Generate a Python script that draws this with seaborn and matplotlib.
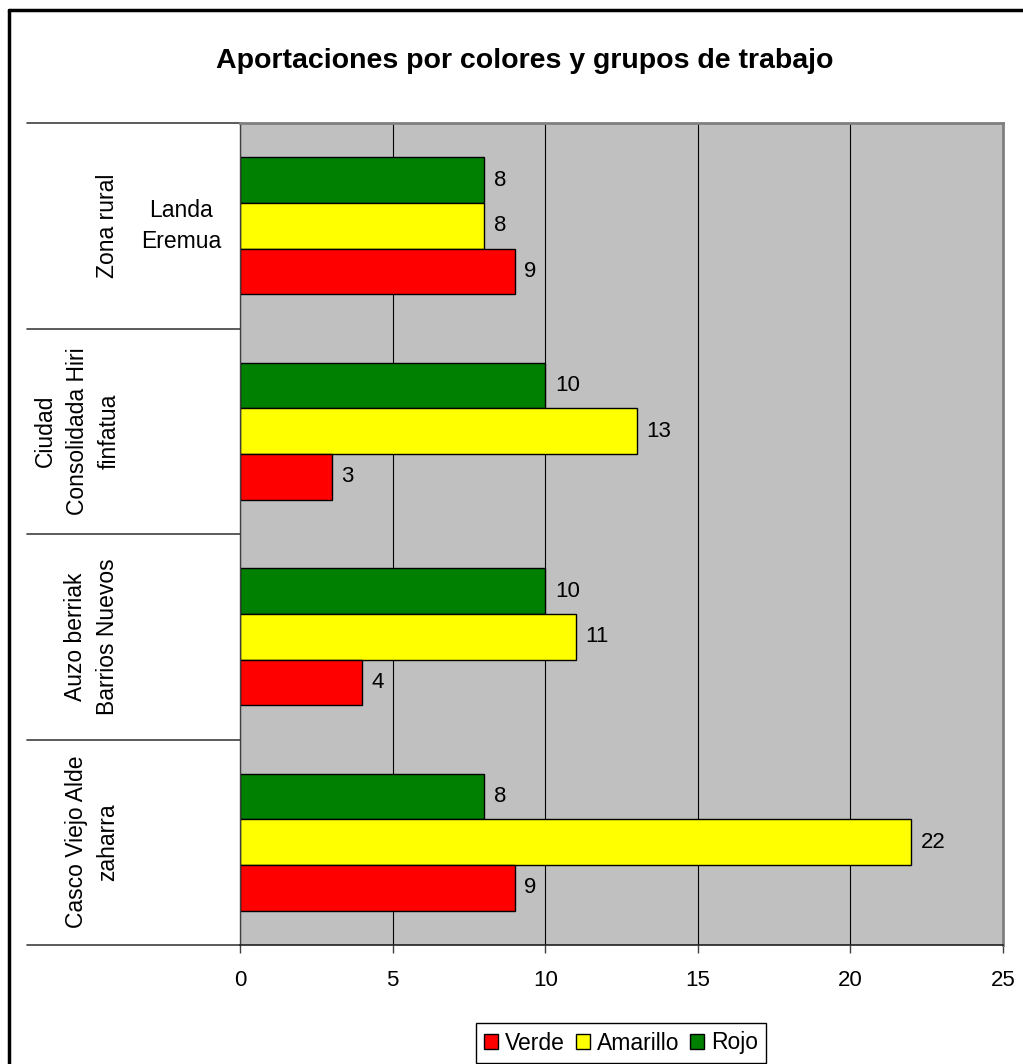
import matplotlib
matplotlib.use("Agg")
import matplotlib.pyplot as plt
import matplotlib.transforms as mtransforms
from matplotlib.lines import Line2D
import pandas as pd
import seaborn as sns

# Data (categories listed top to bottom as drawn)
categories = ["Zona rural", "Ciudad Consolidada", "Auzo berriak", "Casco Viejo"]
series = ["Rojo", "Amarillo", "Verde"]          # top-to-bottom order inside each group
verde    = [9, 3, 4, 9]
amarillo = [8, 13, 11, 22]
rojo     = [8, 10, 10, 8]
x_ticks  = [0, 5, 10, 15, 20, 25]

palette = {"Verde": "#FF0000", "Amarillo": "#FFFF00", "Rojo": "#008000"}

rows = []
for i, cat in enumerate(categories):
    rows.append((cat, "Rojo", rojo[i]))
    rows.append((cat, "Amarillo", amarillo[i]))
    rows.append((cat, "Verde", verde[i]))
df = pd.DataFrame(rows, columns=["grupo", "color", "valor"])

sns.set_style("white")
plt.rcParams["font.family"] = ["Liberation Sans", "DejaVu Sans"]
plt.rcParams["text.color"] = "black"
plt.rcParams["xtick.labelcolor"] = "black"

W, H = 1023, 1064
fig = plt.figure(figsize=(W / 100, H / 100), dpi=100)
ax = fig.add_axes([240 / W, 1 - 945 / H, (1003 - 240) / W, (945 - 123) / H])

sns.barplot(
    data=df, x="valor", y="grupo", hue="color",
    order=categories, hue_order=series, palette=palette,
    orient="h", width=2 / 3, edgecolor="black", linewidth=1,
    saturation=1, ax=ax,
)

for cont in ax.containers:
    ax.bar_label(cont, padding=7, fontsize=16, color="black")

ax.set_facecolor("#C0C0C0")
ax.set_xlim(0, 25)
ax.set_ylim(3.5, -0.5)
ax.set_xticks(x_ticks)
ax.set_xticklabels([str(t) for t in x_ticks], fontsize=16)
ax.set_yticks([])
ax.set_xlabel("")
ax.set_ylabel("")
ax.tick_params(axis="x", direction="out", length=6, width=1, color="#404040", pad=12, bottom=True)
ax.set_axisbelow(True)
ax.xaxis.grid(True, color="black", linewidth=0.8)

for side in ["top", "right"]:
    ax.spines[side].set_color("#808080")
    ax.spines[side].set_linewidth(2)
ax.spines["left"].set_color("#404040")
ax.spines["left"].set_linewidth(1)
ax.spines["bottom"].set_color("#202020")
ax.spines["bottom"].set_linewidth(1.2)

# category label column
trans = mtransforms.blended_transform_factory(fig.transFigure, ax.transData)
for yb in [-0.5, 0.5, 1.5, 2.5, 3.5]:
    ax.add_line(Line2D([27 / W, 240 / W], [yb, yb], transform=trans,
                       color="#404040", linewidth=1.2, clip_on=False))

lab_kw = dict(transform=trans, rotation=90, ha="center", va="center",
              multialignment="center", fontsize=16.5, linespacing=1.5)
ax.text(107 / W, 0, "Zona rural", **lab_kw)
ax.text(181 / W, 0, "Landa\nEremua", transform=trans, ha="center", va="center",
        multialignment="center", fontsize=16.5, linespacing=1.45)
ax.text(77 / W, 1, "Ciudad\nConsolidada Hiri\nfinfatua", **lab_kw)
ax.text(92 / W, 2, "Auzo berriak\nBarrios Nuevos", **lab_kw)
ax.text(92 / W, 3, "Casco Viejo Alde\nzaharra", **lab_kw)

# title
fig.text(525 / W, 1 - 68 / H, "Aportaciones por colores y grupos de trabajo",
         ha="center", va="baseline", fontsize=20.5, fontweight="bold")

# legend: Verde, Amarillo, Rojo
handles, labels = ax.get_legend_handles_labels()
ax.legend_.remove()
handles, labels = handles[::-1], labels[::-1]
leg = fig.legend(handles, labels, loc="center", bbox_to_anchor=(621 / W, 1 - 1043 / H),
                 ncol=3, fontsize=16.5, frameon=True, fancybox=False, framealpha=1,
                 edgecolor="black", handlelength=0.6, handleheight=0.6,
                 handletextpad=0.3, columnspacing=0.5, borderpad=0.35)
leg.get_frame().set_linewidth(1)

# outer chart frame (top and left edges visible)
fig.add_artist(Line2D([9 / W, 9 / W], [0, 1 - 10 / H], transform=fig.transFigure,
                      color="black", linewidth=2.5))
fig.add_artist(Line2D([9 / W, 1], [1 - 10 / H, 1 - 10 / H], transform=fig.transFigure,
                      color="black", linewidth=2.5))

fig.savefig("out.png", dpi=100, facecolor="white")
